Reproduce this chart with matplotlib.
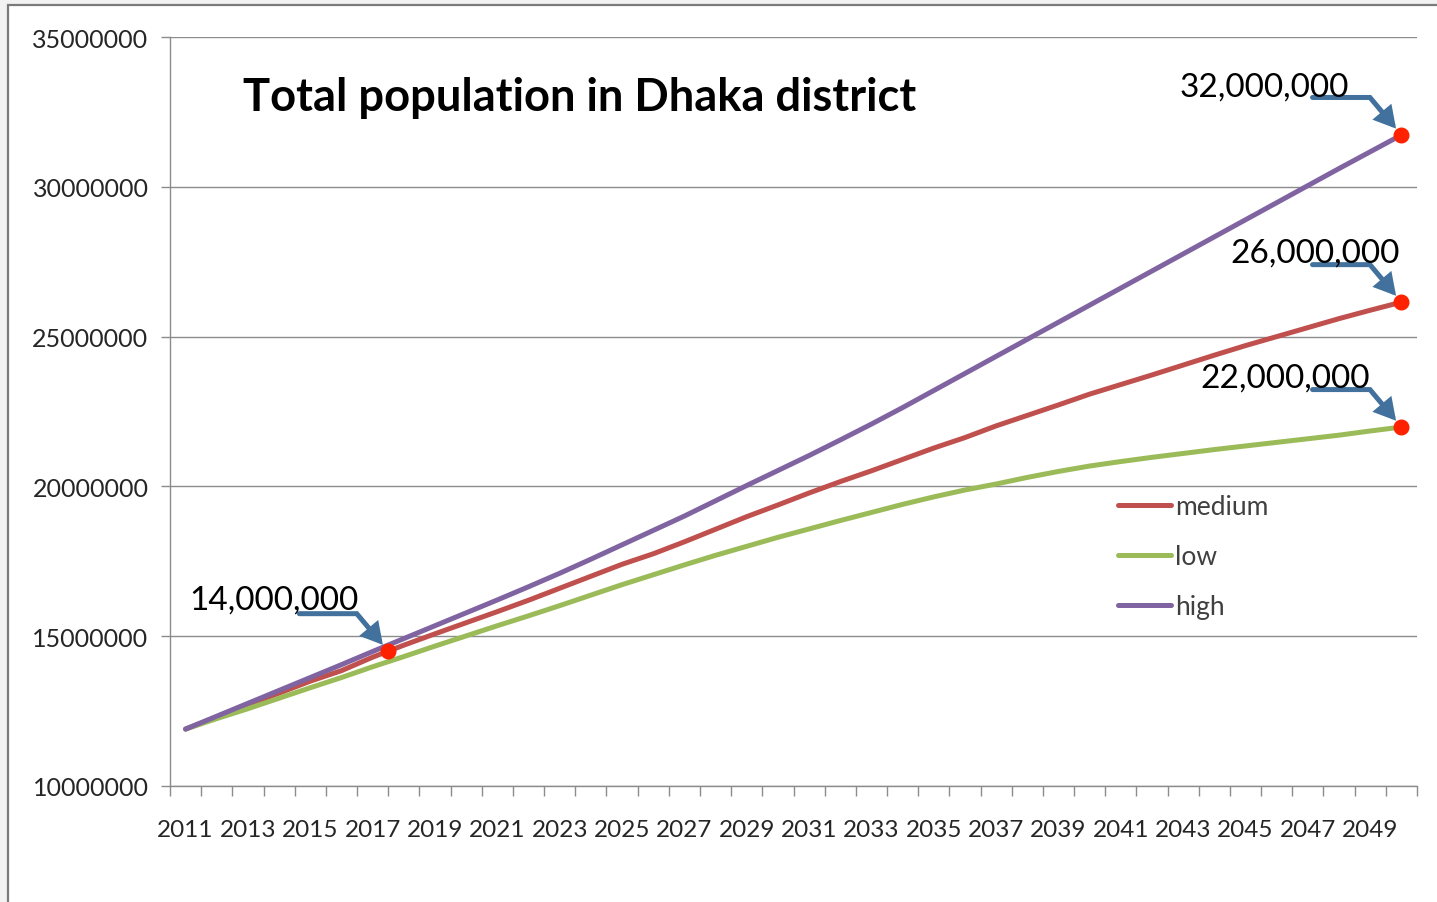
import numpy as np
import matplotlib
matplotlib.use("Agg")
import matplotlib.pyplot as plt
from matplotlib.patches import Rectangle
from matplotlib.ticker import FixedLocator, FuncFormatter

plt.rcParams['font.family'] = ['Lato', 'DejaVu Sans']

# projected population, millions
years = np.arange(2011, 2051)
medium = [11.90, 12.30, 12.70, 13.10, 13.50, 13.85, 14.30, 14.70, 15.08, 15.45,
          15.82, 16.20, 16.60, 17.00, 17.40, 17.75, 18.15, 18.57, 18.99, 19.38,
          19.78, 20.16, 20.52, 20.90, 21.28, 21.63, 22.02, 22.37, 22.72, 23.08,
          23.40, 23.72, 24.05, 24.38, 24.70, 25.00, 25.30, 25.60, 25.88, 26.15]
low = [11.90, 12.25, 12.58, 12.93, 13.28, 13.62, 13.98, 14.32, 14.67, 15.01,
       15.35, 15.68, 16.02, 16.37, 16.72, 17.05, 17.38, 17.70, 18.00, 18.30,
       18.58, 18.86, 19.13, 19.40, 19.65, 19.88, 20.08, 20.30, 20.50, 20.68,
       20.83, 20.97, 21.10, 21.23, 21.35, 21.47, 21.59, 21.71, 21.85, 21.98]
high = [11.90, 12.33, 12.76, 13.19, 13.62, 14.05, 14.49, 14.92, 15.35, 15.78,
        16.21, 16.65, 17.10, 17.57, 18.05, 18.53, 19.01, 19.52, 20.03, 20.53,
        21.03, 21.55, 22.08, 22.63, 23.20, 23.77, 24.34, 24.91, 25.48, 26.05,
        26.62, 27.19, 27.76, 28.33, 28.90, 29.47, 30.04, 30.61, 31.17, 31.73]
series_names = ['medium', 'low', 'high']
series_colors = ['#c0504d', '#9bbb59', '#8064a2']

# callouts: (series, year, label text, text offset of right edge in points)
callouts = [
    ('medium', 2017.5, '14,000,000', (-21, 37)),
    ('high', 2050, '32,000,000', (-38, 35)),
    ('medium', 2050, '26,000,000', (-1, 36)),
    ('low', 2050, '22,000,000', (-23, 36)),
]

data = {'medium': np.array(medium) * 1e6,
        'low': np.array(low) * 1e6,
        'high': np.array(high) * 1e6}

fig = plt.figure(figsize=(14.37, 9.03), dpi=100)
fig.patch.set_facecolor('#f2f2f2')
fig.patches.append(Rectangle((8 / 1437, -0.1), 1.2, 1.1 - 6 / 903,
                             transform=fig.transFigure, facecolor='white',
                             edgecolor='#7a7a7a', lw=1.6, zorder=-5))

ax = fig.add_axes([170 / 1437, 1 - 787 / 903, 1247 / 1437, 749 / 903])
ax.set_facecolor('none')

for name, color in zip(series_names, series_colors):
    ax.plot(years, data[name], color=color, lw=3.6, label=name,
            solid_capstyle='round', solid_joinstyle='round', zorder=3)

ax.set_xlim(2010.5, 2050.5)
ax.set_ylim(10e6, 35e6)
ax.set_yticks(np.arange(10e6, 35e6 + 1, 5e6))
ax.yaxis.set_major_formatter(FuncFormatter(lambda v, p: f'{v:.0f}'))
ax.xaxis.set_major_locator(FixedLocator(years[::2]))
ax.xaxis.set_minor_locator(FixedLocator(np.arange(2010.5, 2051, 1)))
ax.xaxis.set_major_formatter(FuncFormatter(lambda v, p: f'{v:.0f}'))

ax.grid(axis='y', color='#8c8c8c', lw=1.0)
ax.set_axisbelow(True)
for side in ['top', 'right']:
    ax.spines[side].set_visible(False)
for side in ['left', 'bottom']:
    ax.spines[side].set_color('#8c8c8c')
    ax.spines[side].set_linewidth(1.0)

ax.tick_params(axis='y', length=6.5, width=1.0, color='#8c8c8c', pad=9,
               labelsize=18, labelcolor='#262626')
ax.tick_params(axis='x', which='major', length=0, pad=24,
               labelsize=17.5, labelcolor='#262626')
ax.tick_params(axis='x', which='minor', length=7, width=1.0, color='#8c8c8c')

fig.text(243 / 1437, 1 - 98 / 903, 'Total population in Dhaka district',
         fontsize=32.6, fontweight='bold', ha='left', va='center', color='black')

leg = ax.legend(loc='upper left', bbox_to_anchor=(1118 / 1437, 1 - 495 / 903),
                bbox_transform=fig.transFigure, frameon=False, fontsize=19,
                handlelength=2.0, handletextpad=0.15, labelspacing=0.95,
                borderpad=0, borderaxespad=0)
for t in leg.get_texts():
    t.set_color('#404040')
for h in leg.get_lines():
    h.set_linewidth(3.6)

arrow_color = '#41719c'
for name, yr, label, (tx, ty) in callouts:
    val = np.interp(yr, years, data[name])
    ax.plot([yr], [val], 'o', color='#ff2200', ms=10.5, zorder=5, clip_on=False)
    ax.annotate('', xy=(yr, val), xytext=(-64, 27), textcoords='offset points',
                arrowprops=dict(arrowstyle='-|>,head_length=0.8,head_width=0.45',
                                connectionstyle='angle,angleA=0,angleB=130,rad=0',
                                color=arrow_color, lw=3.6, shrinkA=0, shrinkB=6,
                                mutation_scale=13, joinstyle='miter'),
                zorder=6, annotation_clip=False)
    ax.annotate(label, xy=(yr, val), xytext=(tx, ty), textcoords='offset points',
                ha='right', va='center', fontsize=24, color='black', zorder=7,
                annotation_clip=False)

fig.savefig('out.png', dpi=100)
